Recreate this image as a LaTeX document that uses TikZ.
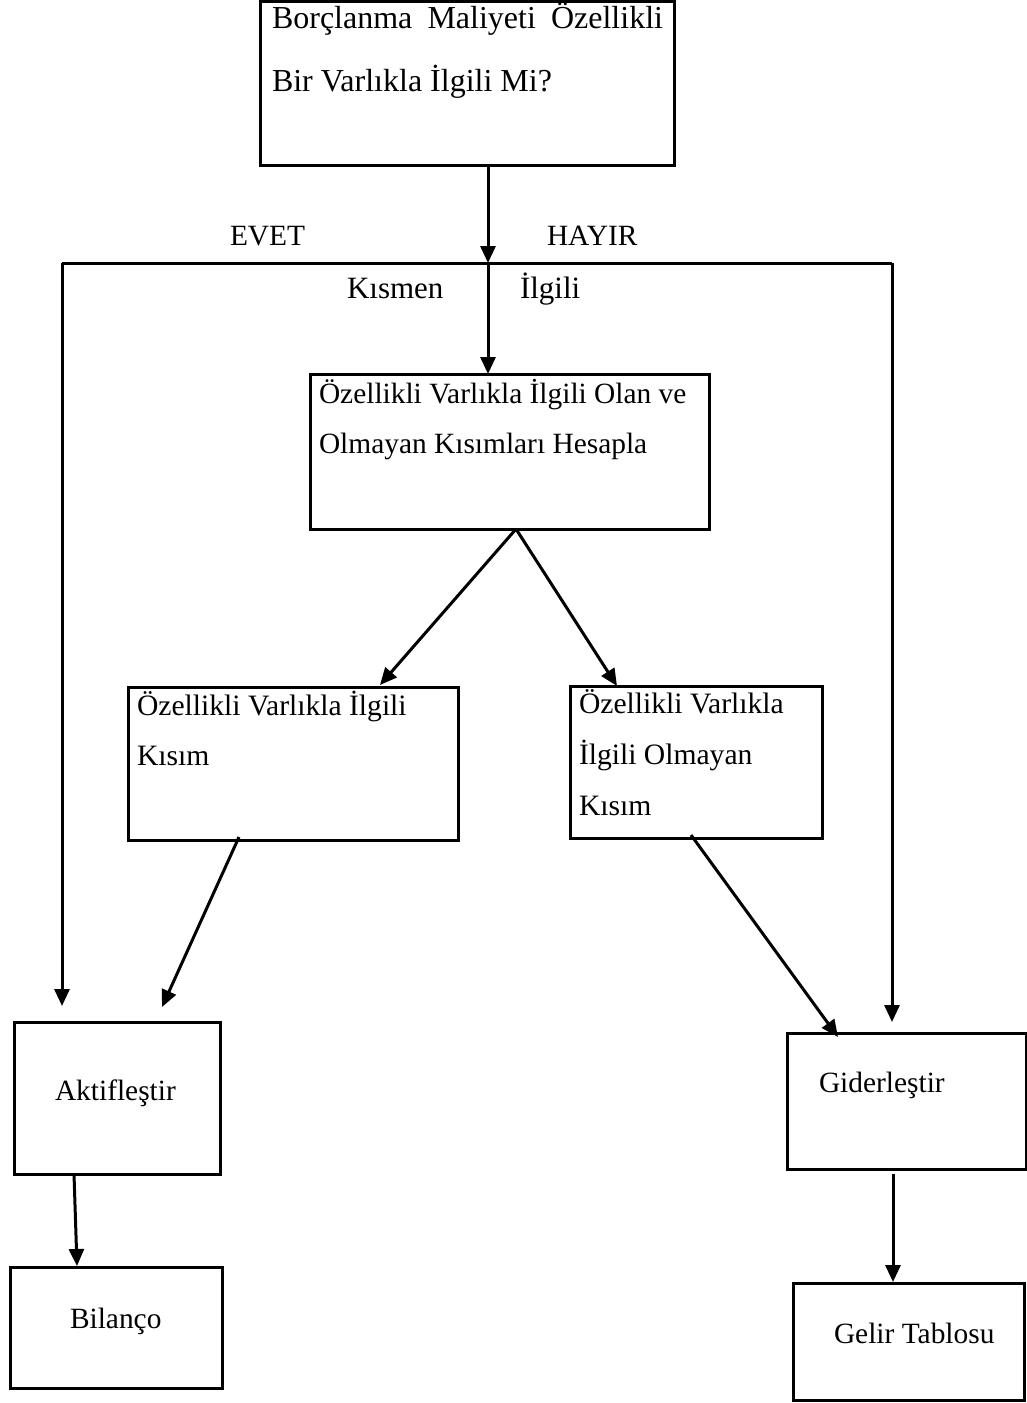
\documentclass[tikz,border=0pt]{standalone}
\usepackage{fontspec}
\setmainfont{Liberation Serif}
\usetikzlibrary{arrows.meta}
\begin{document}
\begin{tikzpicture}[x=1pt,y=-1pt,
  line width=3pt,
  box/.style={draw, line width=3pt, inner sep=0pt, outer sep=0pt, anchor=north west},
  lbl/.style={anchor=base west, inner sep=0pt, outer sep=0pt, font=\fontsize{29.4}{50}\selectfont},
  arr/.style={-{Triangle[length=17pt,width=15pt]}, line width=3pt},
]
\useasboundingbox (0,0) rectangle (1027,1403);

% boxes
\node[box, minimum width=414pt, minimum height=163.5pt] (q) at (260,1.5) {};
\node[box, minimum width=399pt, minimum height=155pt] (calc) at (310,374) {};
\node[box, minimum width=330pt, minimum height=153pt] (rel) at (128,687) {};
\node[box, minimum width=252pt, minimum height=152pt] (nrel) at (570,686) {};
\node[box, minimum width=206pt, minimum height=152pt] (akt) at (14,1022) {};
\node[box, minimum width=239pt, minimum height=136pt] (gid) at (787,1033) {};
\node[box, minimum width=212pt, minimum height=121pt] (bil) at (10,1267) {};
\node[box, minimum width=231pt, minimum height=117.5pt] (gel) at (793.5,1283) {};

% texts inside the boxes
\node[lbl] (qt) at (272,28) {\parbox[t]{400pt}{\fontsize{32}{63}\selectfont
  \makebox[391pt][s]{Borçlanma Maliyeti Özellikli}\\Bir Varlıkla İlgili Mi?}};
\node[lbl] (calct) at (319,403) {\parbox[t]{400pt}{\fontsize{29.4}{50}\selectfont
  Özellikli Varlıkla İlgili Olan ve\\Olmayan Kısımları Hesapla}};
\node[lbl] (relt) at (137,715) {\parbox[t]{320pt}{\fontsize{29.6}{50}\selectfont
  Özellikli Varlıkla İlgili\\Kısım}};
\node[lbl] (nrelt) at (579,713) {\parbox[t]{240pt}{\fontsize{29.6}{51}\selectfont
  Özellikli Varlıkla\\İlgili Olmayan\\Kısım}};
\node[lbl] (aktt) at (55,1100) {Aktifleştir};
\node[lbl] (gidt) at (819,1092) {Giderleştir};
\node[lbl] (bilt) at (70,1328) {Bilanço};
\node[lbl] (gelt) at (834,1343) {Gelir Tablosu};

% branch labels
\node[lbl] (evet) at (230,245) {EVET};
\node[lbl] (hayir) at (547,245) {HAYIR};
\node[lbl, font=\fontsize{31}{40}\selectfont] (kismen) at (347,298) {Kısmen};
\node[lbl, font=\fontsize{31}{40}\selectfont] (ilgili) at (520,298) {İlgili};

% junction points
\coordinate (split) at (488,263);
\coordinate (lcorner) at (62,263);
\coordinate (rcorner) at (892,263);
\coordinate (lend) at (62,1006);
\coordinate (rend) at (892,1022);
\coordinate (apex) at (516,529);
\coordinate (relin) at (380,685);
\coordinate (nrelin) at (617,686);
\coordinate (relout) at (239,837);
\coordinate (aktin) at (162,1007);
\coordinate (nrelout) at (691,835);
\coordinate (gidin) at (838,1037);
\coordinate (aktout) at (74,1174);
\coordinate (bilin) at (77,1266);
\coordinate (gidout) at (893,1174);
\coordinate (gelin) at (893,1282);

% connectors
\draw[arr] (q.south -| split) -- (split);
\draw (lcorner) -- (rcorner);
\draw[arr] (split) -- (split |- calc.north);
\draw[arr] (lcorner) -- (lend);
\draw[arr] (rcorner) -- (rend);
\draw[arr] (apex) -- (relin);
\draw[arr] (apex) -- (nrelin);
\draw[arr] (relout) -- (aktin);
\draw[arr] (nrelout) -- (gidin);
\draw[arr] (aktout) -- (bilin);
\draw[arr] (gidout) -- (gelin);
\end{tikzpicture}
\end{document}
